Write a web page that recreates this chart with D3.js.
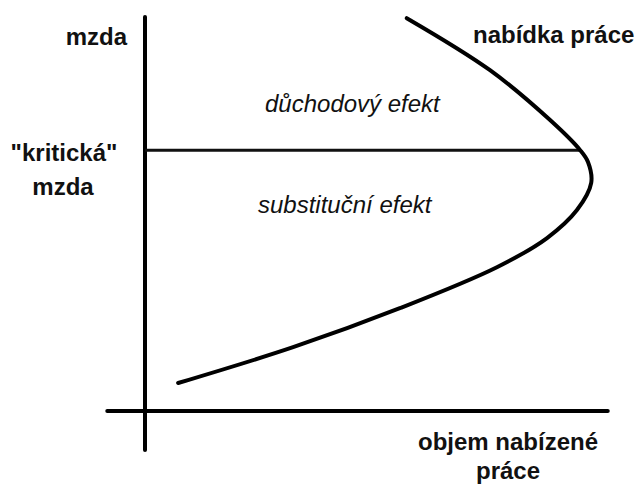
<!DOCTYPE html>
<html>
<head>
<meta charset="utf-8">
<script src="https://cdn.jsdelivr.net/npm/d3@7"></script>
<style>
  body { margin: 0; background: #fff; }
  text { font-family: "Liberation Sans", Arial, sans-serif; fill: #111; }
</style>
</head>
<body>
<div id="viz-container"></div>
<script>
// labour supply curve (0-100 units)
let labour = [7.2, 32.2, 55.4, 76.5, 87.4, 93.9, 97.0, 96.3, 94.6, 88.0, 75.0, 56.9];
let wage   = [7.1, 16.2, 26.1, 36.5, 43.9, 51.0, 57.9, 63.2, 66.2, 73.9, 86.5, 99.7];
let criticalWage = 66.2;
let criticalLabour = 94.6;

let viz = d3.select("#viz-container")
  .append("svg")
    .attr("width", 638)
    .attr("height", 489)
;

let x = d3.scaleLinear().domain([0, 100]).range([145, 605]);
let y = d3.scaleLinear().domain([0, 100]).range([411, 17]);

// axes
viz.append("line")
  .attr("x1", x(0)).attr("x2", x(0))
  .attr("y1", y(100)).attr("y2", y(-9.9))
  .attr("stroke", "#000").attr("stroke-width", 4).attr("stroke-linecap", "round");
viz.append("line")
  .attr("x1", x(-8.2)).attr("x2", x(100.6))
  .attr("y1", y(0)).attr("y2", y(0))
  .attr("stroke", "#000").attr("stroke-width", 4).attr("stroke-linecap", "round");

// critical wage line
viz.append("line")
  .attr("x1", x(0)).attr("x2", x(criticalLabour))
  .attr("y1", y(criticalWage)).attr("y2", y(criticalWage))
  .attr("stroke", "#111").attr("stroke-width", 3);

// supply curve
let pts = labour.map((d, i) => [d, wage[i]]);
let line = d3.line()
  .x(d => x(d[0]))
  .y(d => y(d[1]))
  .curve(d3.curveCatmullRom.alpha(0.5));

viz.append("path")
  .attr("d", line(pts))
  .attr("fill", "none")
  .attr("stroke", "#000")
  .attr("stroke-width", 4)
  .attr("stroke-linecap", "round");

// labels
let bold = [
  {t: "mzda", x: 127, y: 45, a: "end"},
  {t: "\"kritická\"", x: 64, y: 161, a: "middle"},
  {t: "mzda", x: 63, y: 195, a: "middle"},
  {t: "nabídka práce", x: 473, y: 43, a: "start"},
  {t: "objem nabízené", x: 508, y: 450, a: "middle"},
  {t: "práce", x: 508, y: 479, a: "middle"}
];
viz.selectAll("text.b").data(bold).enter().append("text")
  .attr("class", "b")
  .attr("x", d => d.x).attr("y", d => d.y)
  .attr("text-anchor", d => d.a)
  .attr("font-size", 24)
  .attr("font-weight", "bold")
  .text(d => d.t);

let ital = [
  {t: "důchodový efekt", x: 265, y: 112},
  {t: "substituční efekt", x: 258, y: 213}
];
viz.selectAll("text.i").data(ital).enter().append("text")
  .attr("class", "i")
  .attr("x", d => d.x).attr("y", d => d.y)
  .attr("font-size", 24)
  .attr("font-style", "italic")
  .attr("fill", "#222")
  .text(d => d.t);
</script>
</body>
</html>
